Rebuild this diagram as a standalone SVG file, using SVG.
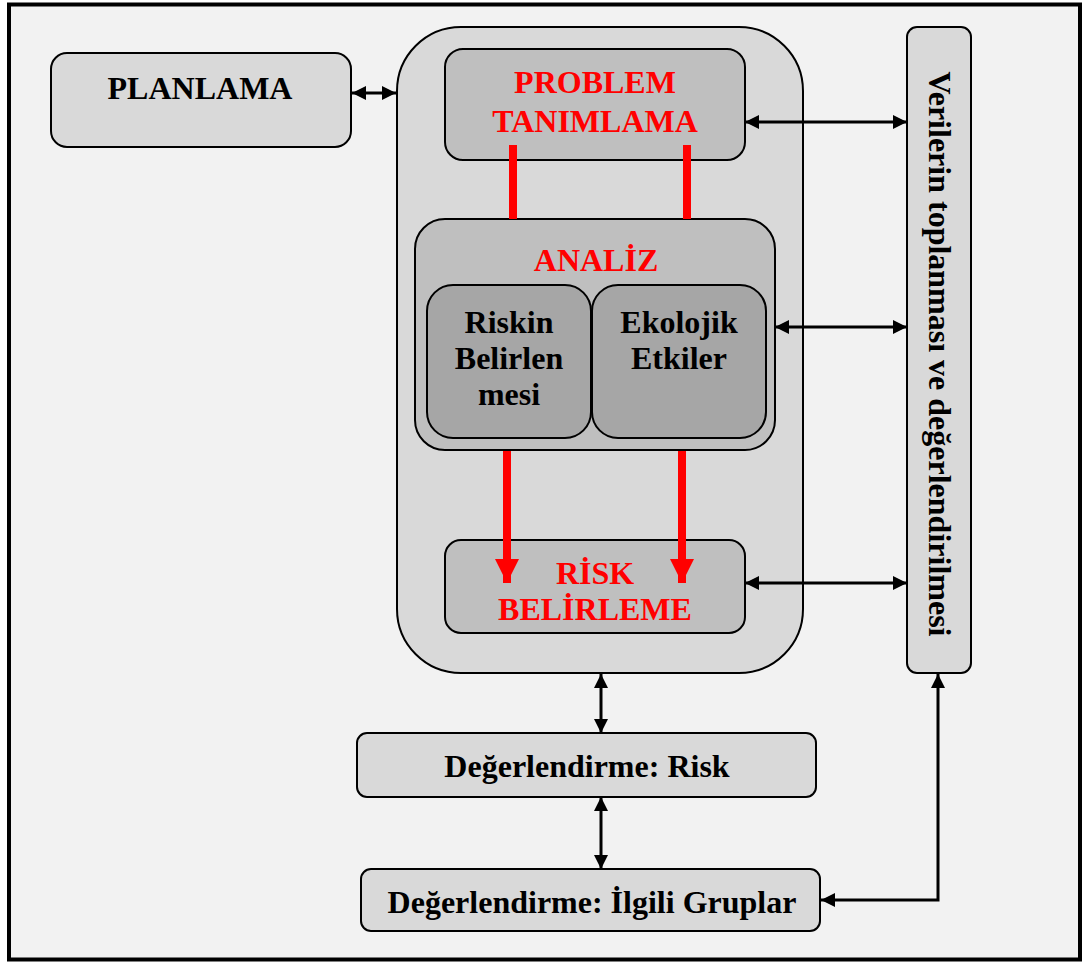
<svg xmlns="http://www.w3.org/2000/svg" width="1082" height="962" viewBox="0 0 1082 962">
<style>
.t{font-family:"Liberation Serif","Times New Roman",serif;font-weight:bold;font-size:32px;text-anchor:middle;fill:#000}
.r{fill:#ff0000}
.n{stroke:#000;stroke-width:2}
.c{stroke:#000;stroke-width:3;fill:none;marker-start:url(#ah);marker-end:url(#ah)}
.red{stroke:#ff0000;stroke-width:8;fill:none}
</style>
<defs>
<marker id="ah" viewBox="0 0 14 14" refX="14" refY="7" markerWidth="14" markerHeight="14" markerUnits="userSpaceOnUse" orient="auto-start-reverse">
<path d="M0,0 L14,7 L0,14 Z" fill="#000"/>
</marker>
<marker id="rh" viewBox="0 0 24 24" refX="24" refY="12" markerWidth="24" markerHeight="24" markerUnits="userSpaceOnUse" orient="auto">
<path d="M0,0 L24,12 L0,24 Z" fill="#ff0000"/>
</marker>
</defs>
<rect x="9" y="4.5" width="1071" height="955" fill="#f2f2f2" stroke="#000" stroke-width="4"/>
<g id="planlama">
<rect class="n" x="51" y="53" width="300" height="94" rx="16" fill="#d9d9d9"/>
<text class="t" x="200" y="99">PLANLAMA</text>
</g>
<g id="main">
<rect class="n" x="397" y="27" width="406" height="646" rx="64" fill="#d9d9d9"/>
</g>
<g id="problem">
<rect class="n" x="445" y="49" width="300" height="111" rx="18" fill="#bfbfbf"/>
<text class="t r" x="595" y="93">PROBLEM</text>
<text class="t r" x="595" y="132">TANIMLAMA</text>
</g>
<g id="analiz">
<rect class="n" x="415" y="219" width="360" height="231" rx="30" fill="#bfbfbf"/>
<text class="t r" x="596" y="271">ANALİZ</text>
</g>
<g id="riskin">
<rect class="n" x="427" y="285" width="164" height="153" rx="26" fill="#a6a6a6"/>
<text class="t" x="509" y="333">Riskin</text>
<text class="t" x="509" y="369">Belirlen</text>
<text class="t" x="509" y="405">mesi</text>
</g>
<g id="ekolojik">
<rect class="n" x="592" y="285" width="174" height="153" rx="26" fill="#a6a6a6"/>
<text class="t" x="679" y="333">Ekolojik</text>
<text class="t" x="679" y="369">Etkiler</text>
</g>
<g id="risk">
<rect class="n" x="445" y="540" width="300" height="93" rx="16" fill="#bfbfbf"/>
<text class="t r" x="595" y="584">RİSK</text>
<text class="t r" x="595" y="620">BELİRLEME</text>
</g>
<g id="veriler">
<rect class="n" x="907" y="27" width="64" height="646" rx="10" fill="#d9d9d9"/>
<text class="t" transform="translate(939,354) rotate(90)" x="0" y="10.5">Verilerin toplanması ve değerlendirilmesi</text>
</g>
<g id="degrisk">
<rect class="n" x="357" y="733" width="459" height="64" rx="10" fill="#d9d9d9"/>
<text class="t" x="587" y="777">Değerlendirme: Risk</text>
</g>
<g id="deggruplar">
<rect class="n" x="361" y="869" width="459" height="62" rx="10" fill="#d9d9d9"/>
<text class="t" x="592" y="913">Değerlendirme: İlgili Gruplar</text>
</g>
<g id="connectors">
<line class="c" x1="352" y1="93" x2="396" y2="93"/>
<line class="c" x1="745" y1="122" x2="907" y2="122"/>
<line class="c" x1="775" y1="327" x2="907" y2="327"/>
<line class="c" x1="745" y1="583" x2="907" y2="583"/>
<line class="c" x1="601" y1="674" x2="601" y2="733"/>
<line class="c" x1="601" y1="797" x2="601" y2="869"/>
<polyline class="c" points="938,674 938,900 821,900"/>
<line class="red" x1="513" y1="145" x2="513" y2="219"/>
<line class="red" x1="687" y1="145" x2="687" y2="219"/>
<line class="red" x1="507" y1="451" x2="507" y2="583" marker-end="url(#rh)"/>
<line class="red" x1="682" y1="451" x2="682" y2="583" marker-end="url(#rh)"/>
</g>
</svg>
